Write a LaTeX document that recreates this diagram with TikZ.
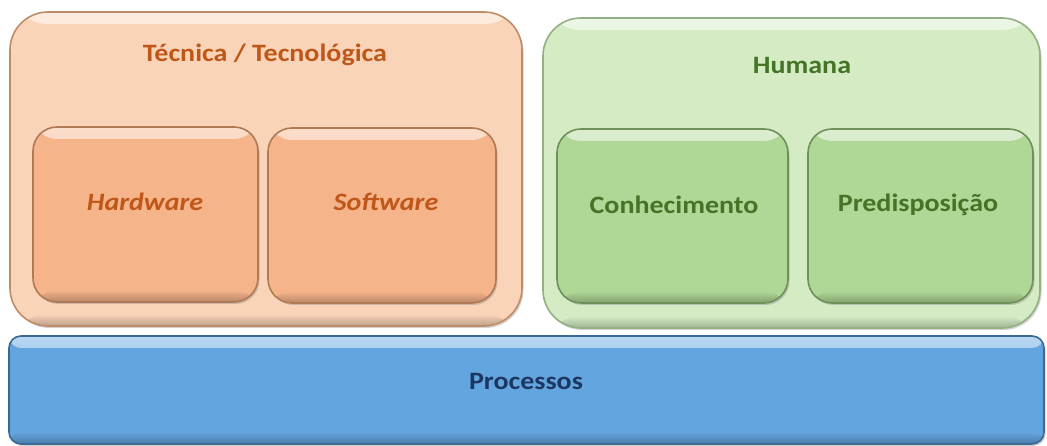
\documentclass[tikz,border=0pt]{standalone}
\usepackage{fontspec}
\setmainfont{Carlito}[FakeStretch=1.12]
\usetikzlibrary{shadows}
\definecolor{orOut}{HTML}{FAD4B8}
\definecolor{orOutB}{HTML}{C08C68}
\definecolor{orIn}{HTML}{F6B48A}
\definecolor{orInB}{HTML}{B07A55}
\definecolor{orTxt}{HTML}{BE5718}
\definecolor{grOut}{HTML}{D4EBC4}
\definecolor{grOutB}{HTML}{94B083}
\definecolor{grIn}{HTML}{AFD796}
\definecolor{grInB}{HTML}{6E915A}
\definecolor{grTxt}{HTML}{457427}
\definecolor{blFill}{HTML}{63A5DF}
\definecolor{blB}{HTML}{3A6996}
\definecolor{blTxt}{HTML}{1C3862}
\tikzset{
  box/.style={rectangle, line width=1.6pt, drop shadow={opacity=0.35, shadow xshift=1.5pt, shadow yshift=-2pt}},
  bevel/.style 2 args={fill=#1, draw=#2,
    path picture={
      \shade[top color=white!55!#1, bottom color=#1]
        (path picture bounding box.north west) rectangle ([yshift=-12pt]path picture bounding box.north east);
      \shade[top color=#1, bottom color=#1!75!black]
        ([yshift=12pt]path picture bounding box.south west) rectangle (path picture bounding box.south east);
    }},
  outerbox/.style={box, rounded corners=38pt},
  innerbox/.style={box, rounded corners=24pt},
  lbl/.style={font=\bfseries\fontsize{25}{29}\selectfont, inner sep=0pt},
}
\begin{document}
\begin{tikzpicture}[x=1pt,y=-1pt]
\useasboundingbox[fill=white] (0,0) rectangle (1047,446);
% outer boxes
\node[outerbox, bevel={orOut}{orOutB}, minimum width=512pt, minimum height=314pt] (tec) at (266,169) {};
\node[outerbox, bevel={grOut}{grOutB}, minimum width=497pt, minimum height=310pt] (hum) at (791.5,173) {};
% inner boxes
\node[innerbox, bevel={orIn}{orInB}, minimum width=225pt, minimum height=175pt] (hw) at (145.5,214.5) {};
\node[innerbox, bevel={orIn}{orInB}, minimum width=228pt, minimum height=175pt] (sw) at (382,215.5) {};
\node[innerbox, bevel={grIn}{grInB}, minimum width=231pt, minimum height=174pt] (con) at (672.5,216) {};
\node[innerbox, bevel={grIn}{grInB}, minimum width=225pt, minimum height=174pt] (pre) at (920.5,216) {};
% process bar
\node[box, rounded corners=12pt, bevel={blFill}{blB}, minimum width=1035pt, minimum height=108pt] (proc) at (526.5,390) {};
% labels
\node[lbl, text=orTxt] (tecT) at (265,55) {Técnica / Tecnológica};
\node[lbl, text=grTxt] (humT) at (802,65) {Humana};
\node[lbl, text=orTxt] (hwT) at (145,202) {\itshape Hardware};
\node[lbl, text=orTxt] (swT) at (386,202) {\itshape Software};
\node[lbl, text=grTxt] (conT) at (674,205) {Conhecimento};
\node[lbl, text=grTxt] (preT) at (918,205) {Predisposição};
\node[lbl, text=blTxt] (procT) at (526,381) {Processos};
\end{tikzpicture}
\end{document}
